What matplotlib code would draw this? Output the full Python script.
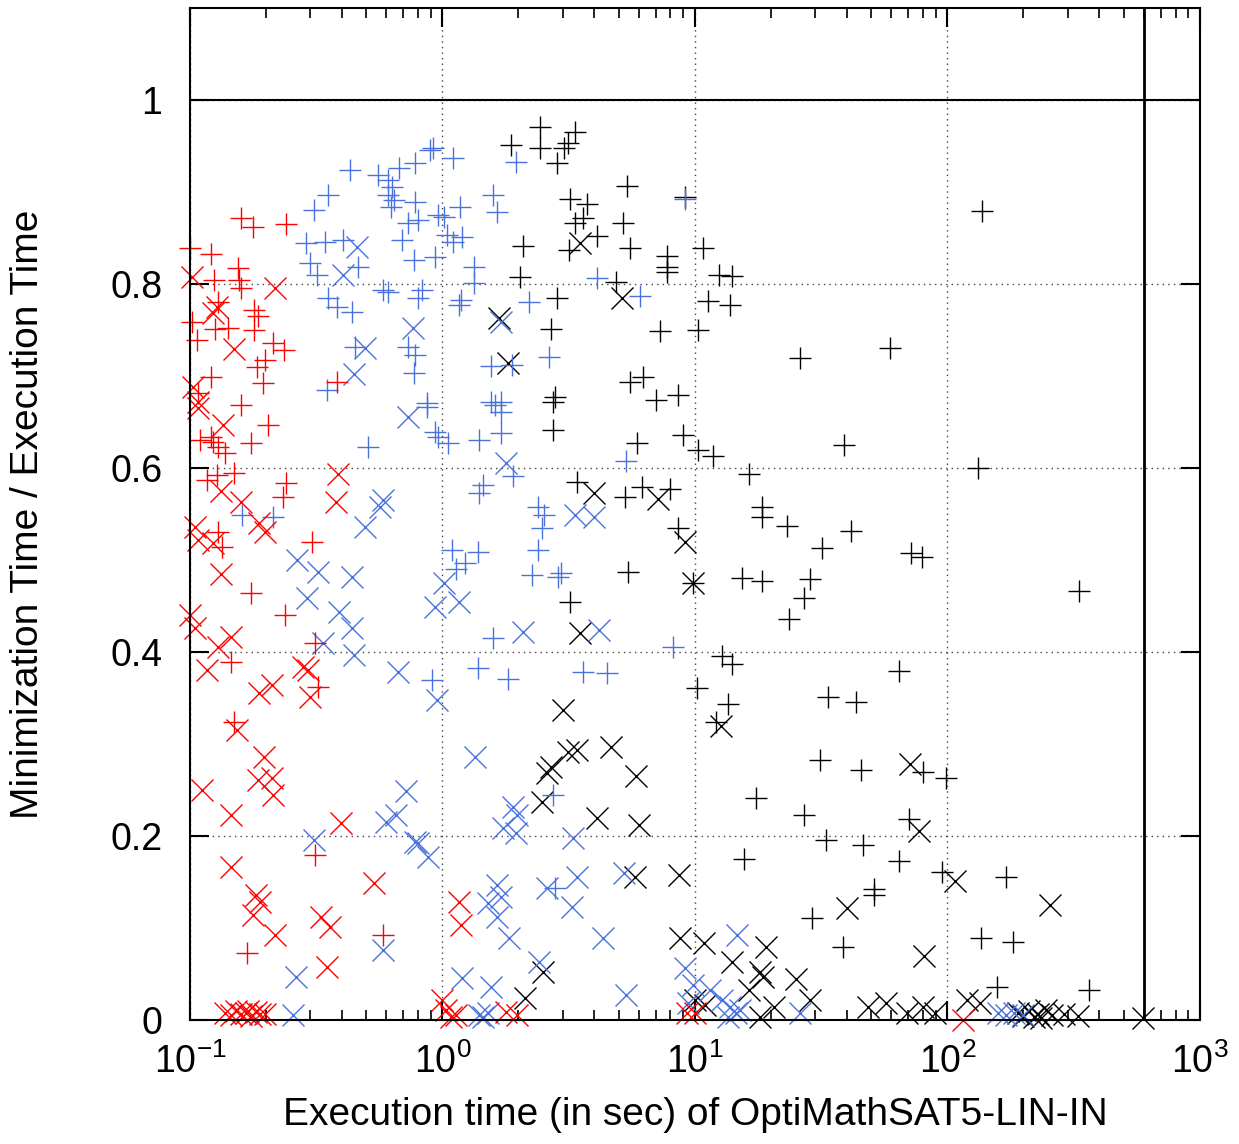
import matplotlib
matplotlib.use("Agg")
import matplotlib.pyplot as plt
from matplotlib.ticker import LogLocator, NullFormatter, FixedLocator

plt.rcParams['font.family'] = ['Liberation Sans', 'DejaVu Sans']
plt.rcParams['mathtext.default'] = 'regular'

# red '+'
red_plus_x = [0.160, 0.177, 0.241, 0.100, 0.121, 0.155, 0.157, 0.160, 0.124, 0.129,
              0.179, 0.186, 0.179, 0.126, 0.141, 0.107, 0.102, 0.214, 0.236, 0.199,
              0.184, 0.195, 0.121, 0.159, 0.384, 0.108, 0.204, 0.110, 0.121, 0.123,
              0.129, 0.138, 0.174, 0.117, 0.128, 0.149, 0.241, 0.234, 0.129, 0.134,
              0.303, 0.174, 0.239, 0.314, 0.146, 0.322, 0.150, 0.314, 0.169, 0.579]
red_plus_y = [0.872, 0.862, 0.865, 0.839, 0.833, 0.817, 0.804, 0.796, 0.804, 0.780,
              0.772, 0.765, 0.750, 0.751, 0.752, 0.739, 0.759, 0.736, 0.728, 0.717,
              0.710, 0.692, 0.699, 0.668, 0.693, 0.682, 0.647, 0.630, 0.634, 0.628,
              0.623, 0.616, 0.627, 0.587, 0.592, 0.595, 0.584, 0.568, 0.530, 0.514,
              0.520, 0.464, 0.440, 0.410, 0.389, 0.362, 0.324, 0.179, 0.073, 0.092]

# red 'x'
red_x_x = [0.102, 0.218, 0.123, 0.128, 0.150, 0.103, 0.108, 0.108, 0.135, 0.387,
           0.380, 0.133, 0.159, 0.188, 0.199, 0.105, 0.108, 0.123, 0.133, 0.100,
           0.105, 0.145, 0.129, 0.117, 0.281, 0.294, 0.211, 0.188, 0.300, 0.154,
           0.197, 0.186, 0.212, 0.214, 0.112, 0.145, 0.395, 0.145, 0.182, 0.190,
           0.177, 0.218, 0.329, 0.360, 0.537, 0.349, 1.16, 1.18,
           0.138, 0.145, 0.152, 0.159, 0.166, 0.174, 0.182, 0.190, 0.199, 0.170,
           1.00, 1.03, 1.08, 1.13, 1.78, 1.98, 9.3, 10.0, 115]
red_x_y = [0.808, 0.796, 0.768, 0.775, 0.729, 0.688, 0.672, 0.665, 0.647, 0.593,
           0.563, 0.575, 0.563, 0.540, 0.530, 0.536, 0.522, 0.518, 0.485, 0.440,
           0.426, 0.416, 0.405, 0.380, 0.384, 0.380, 0.364, 0.355, 0.351, 0.315,
           0.286, 0.261, 0.263, 0.245, 0.250, 0.223, 0.214, 0.166, 0.136, 0.128,
           0.114, 0.092, 0.112, 0.101, 0.149, 0.058, 0.128, 0.103,
           0.008, 0.005, 0.010, 0.006, 0.008, 0.004, 0.009, 0.006, 0.007, 0.010,
           0.022, 0.011, 0.003, 0.005, 0.009, 0.005, 0.008, 0.008, 0.000]

# blue '+'
blue_plus_x = [0.432, 0.353, 0.309, 0.555, 0.61, 0.633, 0.606, 0.64, 0.623, 0.67,
               0.782, 0.896, 0.92, 0.782, 0.733, 0.80, 0.964, 0.287, 0.344, 0.402,
               0.465, 0.300, 0.320, 0.353, 0.384, 0.44, 0.58, 0.61, 0.694, 0.77,
               0.833, 0.80, 0.938, 0.452, 0.73, 0.782, 0.77, 0.35, 0.87, 1.10,
               1.96, 1.59, 1.17, 1.64, 1.01, 1.04, 1.20, 1.10, 1.33, 1.33,
               1.18, 1.16, 2.21, 4.10, 6.08, 9.17, 2.65, 1.55, 1.89, 1.55,
               1.70, 0.87, 0.938, 0.964, 0.505, 0.161, 0.214, 0.905, 1.05, 1.39,
               1.71, 1.70, 1.62, 5.35, 1.91, 1.45, 1.40, 2.40, 2.53, 2.47,
               2.38, 1.09, 1.38, 1.23, 1.13, 2.27, 2.96, 2.88, 1.58, 8.22,
               1.38, 1.81, 3.59, 4.50, 2.75, 2.80]
blue_plus_y = [0.924, 0.897, 0.880, 0.918, 0.913, 0.905, 0.897, 0.891, 0.884, 0.926,
               0.932, 0.946, 0.948, 0.889, 0.866, 0.870, 0.875, 0.845, 0.846, 0.848,
               0.818, 0.823, 0.810, 0.785, 0.775, 0.770, 0.793, 0.791, 0.848, 0.826,
               0.793, 0.785, 0.829, 0.732, 0.732, 0.723, 0.703, 0.685, 0.671, 0.937,
               0.933, 0.897, 0.884, 0.878, 0.873, 0.853, 0.851, 0.846, 0.818, 0.801,
               0.783, 0.777, 0.780, 0.807, 0.787, 0.892, 0.721, 0.711, 0.712, 0.672,
               0.672, 0.666, 0.639, 0.634, 0.623, 0.549, 0.547, 0.370, 0.627, 0.630,
               0.638, 0.661, 0.668, 0.608, 0.591, 0.582, 0.573, 0.558, 0.549, 0.535,
               0.511, 0.511, 0.509, 0.497, 0.490, 0.484, 0.486, 0.482, 0.415, 0.405,
               0.383, 0.371, 0.378, 0.377, 0.245, 0.143]

# blue 'x'
blue_x_x = [0.457, 0.402, 0.762, 0.495, 0.448, 0.733, 0.58, 0.568, 0.495, 0.266,
            0.322, 0.44, 0.292, 0.39, 0.44, 0.335, 0.448, 0.664, 0.938, 0.955,
            0.714, 0.652, 0.595, 0.311, 0.782, 0.80, 0.88, 0.58, 0.262, 0.256,
            1.70, 1.78, 3.36, 3.97, 1.01, 1.16, 2.09, 4.18, 1.34, 1.91,
            1.98, 1.74, 1.95, 3.30, 3.42, 5.23, 1.65, 1.51, 1.65, 1.70,
            2.60, 3.27, 1.83, 4.34, 2.42, 1.20, 1.55, 5.31, 9.17, 9.42,
            1.45, 1.39, 1.52, 14.7, 9.8, 11.5, 12.8, 13.8, 14.5, 13.5,
            15.1, 26.0, 158, 170, 183, 200]
blue_x_y = [0.840, 0.810, 0.752, 0.730, 0.702, 0.655, 0.565, 0.558, 0.536, 0.500,
            0.487, 0.482, 0.459, 0.443, 0.426, 0.410, 0.397, 0.378, 0.449, 0.348,
            0.249, 0.223, 0.215, 0.196, 0.193, 0.192, 0.177, 0.076, 0.047, 0.005,
            0.759, 0.605, 0.549, 0.547, 0.475, 0.454, 0.422, 0.424, 0.286, 0.232,
            0.223, 0.209, 0.203, 0.198, 0.155, 0.160, 0.147, 0.127, 0.112, 0.134,
            0.143, 0.123, 0.089, 0.089, 0.063, 0.046, 0.036, 0.027, 0.057, 0.018,
            0.003, 0.005, 0.008, 0.092, 0.038, 0.033, 0.022, 0.014, 0.008, 0.003,
            0.011, 0.008, 0.008, 0.005, 0.008, 0.005]

# black '+'
black_plus_x = [2.44, 1.86, 2.44, 2.84, 3.03, 3.13, 3.36, 5.40, 9.17, 3.21,
                3.72, 3.61, 3.36, 5.21, 4.10, 3.18, 5.55, 2.09, 7.78, 7.78,
                7.78, 2.02, 4.88, 2.84, 2.68, 7.24, 10.3, 5.55, 6.25, 6.98,
                8.60, 2.80, 2.75, 2.75, 5.90, 8.93, 10.3, 3.42, 5.26, 6.19,
                8.0, 8.60, 5.45, 3.21, 10.2, 10.8, 12.5, 14.0, 11.3, 13.8,
                26.1, 59, 137, 38.8, 11.8, 16.4, 18.4, 18.4, 23.2, 41.6,
                31.8, 72, 79, 132, 15.4, 18.4, 28.6, 27, 23.5, 333,
                12.8, 14.0, 13.5, 12.1, 64, 33.7, 43.5, 31.4, 45.6, 80,
                99, 17.4, 27, 70.7, 32.9, 46.5, 15.6, 64, 95, 170,
                51, 51, 29, 38.4, 136, 181, 157, 362, 9.8]
black_plus_y = [0.971, 0.951, 0.948, 0.932, 0.948, 0.953, 0.965, 0.907, 0.895, 0.892,
                0.887, 0.872, 0.866, 0.866, 0.852, 0.837, 0.839, 0.841, 0.830, 0.818,
                0.813, 0.808, 0.802, 0.785, 0.751, 0.749, 0.750, 0.693, 0.699, 0.674,
                0.679, 0.677, 0.672, 0.641, 0.627, 0.636, 0.620, 0.585, 0.568, 0.579,
                0.577, 0.535, 0.487, 0.454, 0.361, 0.839, 0.810, 0.809, 0.782, 0.777,
                0.720, 0.730, 0.879, 0.625, 0.613, 0.593, 0.558, 0.547, 0.537, 0.532,
                0.513, 0.508, 0.503, 0.600, 0.480, 0.477, 0.479, 0.459, 0.436, 0.466,
                0.396, 0.387, 0.343, 0.324, 0.379, 0.351, 0.346, 0.283, 0.272, 0.270,
                0.263, 0.241, 0.223, 0.218, 0.196, 0.190, 0.175, 0.173, 0.161, 0.155,
                0.142, 0.136, 0.111, 0.079, 0.089, 0.085, 0.036, 0.033, 0.475]

# black 'x'
black_x_x = [3.52, 5.16, 1.68, 1.81, 3.97, 7.17, 9.1, 9.8, 3.49, 3.0,
             3.13, 3.42, 4.67, 2.68, 2.60, 5.86, 2.49, 4.10, 5.99, 5.81,
             8.68, 8.76, 2.51, 2.13, 12.7, 71, 77, 107, 40, 254,
             81, 10.9, 14.0, 19.2, 18.1, 18.6, 16.3, 25.2, 28.6, 20.5,
             18.1, 48.4, 57, 69, 80, 89, 120, 135, 10.0, 11.0,
             190, 200, 210, 220, 228, 235, 245, 260, 290, 330, 595]
black_x_y = [0.845, 0.785, 0.763, 0.714, 0.573, 0.566, 0.520, 0.475, 0.421, 0.337,
             0.291, 0.293, 0.297, 0.275, 0.268, 0.265, 0.237, 0.220, 0.212, 0.155,
             0.158, 0.089, 0.052, 0.024, 0.320, 0.278, 0.205, 0.151, 0.122, 0.125,
             0.070, 0.084, 0.063, 0.079, 0.052, 0.047, 0.033, 0.045, 0.022, 0.014,
             0.003, 0.014, 0.018, 0.008, 0.014, 0.008, 0.022, 0.018, 0.022, 0.016,
             0.008, 0.004, 0.010, 0.003, 0.006, 0.002, 0.011, 0.005, 0.007, 0.004, 0.002]

blue = '#4a72dc'
ms = 16
mew = 1.0

fig = plt.figure(figsize=(12.39, 11.44), dpi=100)
ax = fig.add_axes([0.1533, 0.1084, 0.8152, 0.8846])

# points are not clipped at the border (gnuplot style)
ax.plot(black_plus_x, black_plus_y, '+', color='black', ms=ms, mew=mew, clip_on=False)
ax.plot(black_x_x, black_x_y, 'x', color='black', ms=ms, mew=mew, clip_on=False)
ax.plot(blue_plus_x, blue_plus_y, '+', color=blue, ms=ms, mew=mew, clip_on=False)
ax.plot(blue_x_x, blue_x_y, 'x', color=blue, ms=ms, mew=mew, clip_on=False)
ax.plot(red_plus_x, red_plus_y, '+', color='red', ms=ms, mew=mew, clip_on=False)
ax.plot(red_x_x, red_x_y, 'x', color='red', ms=ms, mew=mew, clip_on=False)

ax.axhline(1.0, color='black', lw=1.5)
ax.axvline(600, color='black', lw=2)

ax.set_xscale('log')
ax.set_xlim(0.1, 1000)
ax.set_ylim(0, 1.1)

ax.xaxis.set_major_locator(FixedLocator([0.1, 1, 10, 100, 1000]))
ax.set_xticklabels([r'$10^{-1}$', r'$10^{0}$', r'$10^{1}$', r'$10^{2}$', r'$10^{3}$'])
ax.xaxis.set_minor_locator(LogLocator(base=10, subs=range(2, 10)))
ax.xaxis.set_minor_formatter(NullFormatter())
ax.set_yticks([0, 0.2, 0.4, 0.6, 0.8, 1.0])
ax.set_yticklabels(['0', '0.2', '0.4', '0.6', '0.8', '1'])

ax.grid(True, which='major', color='#444444', linestyle=(0, (1, 3)), lw=1)
ax.tick_params(which='major', direction='in', length=14, width=1.5,
               top=True, right=True, labelsize=27)
ax.tick_params(axis='x', which='major', pad=17)
ax.tick_params(axis='y', which='major', pad=20)
ax.tick_params(which='minor', direction='in', length=7, width=1.2,
               top=True, right=True)
for s in ax.spines.values():
    s.set_linewidth(1.5)

ax.set_xlabel('Execution time (in sec) of OptiMathSAT5-LIN-IN', fontsize=28)
ax.set_ylabel('Minimization Time / Execution Time', fontsize=28)
ax.xaxis.set_label_coords(0.5, -0.076)
ax.yaxis.set_label_coords(-0.143, 0.5)

fig.savefig('out.png', dpi=100)
